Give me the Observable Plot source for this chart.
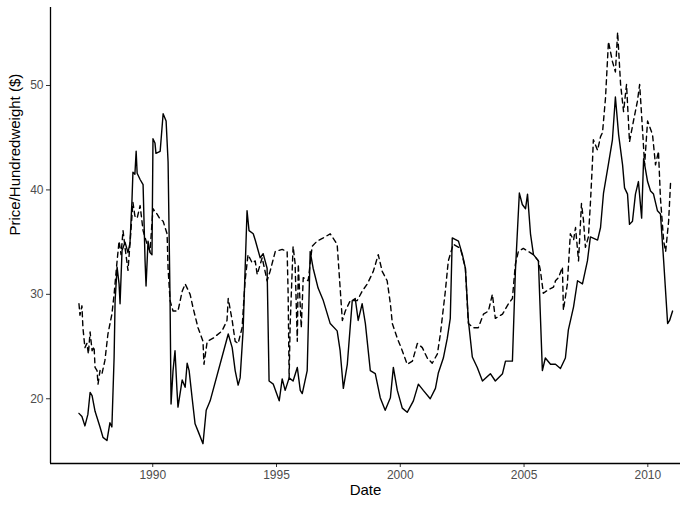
<!DOCTYPE html>
<html>
<head>
<meta charset="utf-8">
<script src="https://cdn.jsdelivr.net/npm/d3@7"></script>
<script src="https://cdn.jsdelivr.net/npm/@observablehq/plot@0.6"></script>
<style>
  html, body { margin: 0; padding: 0; background: #ffffff; }
  #chart { width: 680px; height: 506px; overflow: hidden; }
</style>
</head>
<body>
<div id="chart"></div>
<script>
// Solid series: decimal year and price ($ per hundredweight)
const solidYears = [
  1987.02,1987.14,1987.26,1987.38,1987.47,1987.55,1987.67,1987.75,1987.87,1987.99,
  1988.15,1988.27,1988.35,1988.44,1988.48,1988.56,1988.64,1988.68,1988.76,1988.88,1989.00,
  1989.08,1989.16,1989.20,1989.28,1989.33,1989.37,1989.49,1989.61,1989.69,1989.73,
  1989.81,1989.89,1989.97,1990.01,1990.09,1990.13,1990.30,1990.42,1990.54,1990.62,
  1990.70,1990.74,1990.82,1990.90,1990.98,1991.02,1991.19,1991.31,1991.39,1991.47,
  1991.59,1991.71,1991.83,1992.03,1992.16,1992.32,1993.05,1993.21,1993.33,1993.45,
  1993.53,1993.65,1993.81,1993.89,1994.06,1994.14,1994.34,1994.46,1994.62,1994.70,
  1994.87,1995.11,1995.23,1995.35,1995.51,1995.67,1995.84,1995.96,1996.04,1996.24,
  1996.36,1996.48,1996.68,1996.89,1997.17,1997.45,1997.57,1997.70,1997.86,1998.06,
  1998.18,1998.30,1998.46,1998.59,1998.79,1998.99,1999.19,1999.39,1999.60,1999.72,
  1999.88,2000.08,2000.28,2000.53,2000.73,2000.93,2001.21,2001.42,2001.54,2001.74,
  2001.90,2002.02,2002.10,2002.35,2002.51,2002.63,2002.75,2002.91,2003.11,2003.32,
  2003.64,2003.84,2004.13,2004.25,2004.53,2004.65,2004.81,2004.93,2005.06,2005.14,
  2005.26,2005.38,2005.58,2005.74,2005.86,2006.07,2006.27,2006.47,2006.67,2006.79,
  2007.00,2007.16,2007.36,2007.56,2007.68,2007.97,2008.09,2008.21,2008.41,
  2008.57,2008.69,2008.82,2008.98,2009.06,2009.18,2009.26,2009.38,2009.50,2009.62,
  2009.75,2009.83,2009.99,2010.11,2010.23,2010.39,2010.51,2010.64,2010.80,2010.88,
  2011.00
];
const solidPrices = [
  18.6,18.3,17.4,18.5,20.6,20.3,18.8,18.2,17.3,16.3,
  16.0,17.7,17.3,24.0,29.4,32.6,31.0,29.1,34.2,35.0,34.0,
  34.9,38.9,41.7,41.5,43.7,41.6,41.0,40.5,33.2,30.8,
  35.1,34.0,33.8,44.9,44.5,43.5,43.7,47.3,46.6,42.7,
  29.4,19.5,22.7,24.6,20.8,19.2,21.8,21.1,23.4,22.7,
  20.1,17.6,16.9,15.7,18.9,19.8,26.2,24.9,22.7,21.3,
  22.0,26.5,38.0,36.1,35.8,35.2,33.5,33.9,32.5,21.7,
  21.4,19.8,21.9,20.8,22.0,21.7,23.0,20.8,20.5,22.7,
  34.1,32.5,30.6,29.4,27.2,26.5,24.6,21.0,23.3,29.4,
  29.6,27.5,29.1,27.2,22.7,22.4,20.1,18.9,20.1,23.0,
  20.8,19.1,18.7,19.8,21.4,20.8,20.0,21.0,22.5,23.9,
  25.8,27.7,35.4,35.1,33.8,32.5,27.5,24.0,23.0,21.7,
  22.4,21.7,22.4,23.6,23.6,32.2,39.7,38.6,38.2,39.6,
  35.8,33.8,33.2,22.7,23.9,23.3,23.3,22.9,23.9,26.6,
  28.8,31.3,31.0,33.2,35.5,35.2,36.4,39.7,42.5,
  44.8,48.9,45.3,42.4,40.2,39.6,36.7,37.0,39.6,40.8,
  37.3,43.0,40.8,39.9,39.6,38.0,37.7,33.2,27.2,27.5,
  28.4
];

// Dashed series: decimal year and price ($ per hundredweight)
const dashedYears = [
  1987.02,1987.06,1987.14,1987.18,1987.26,1987.34,1987.40,1987.47,1987.55,1987.63,1987.67,
  1987.75,1987.79,1987.87,1987.95,1988.07,1988.19,1988.35,1988.44,1988.56,1988.64,
  1988.72,1988.80,1988.88,1989.00,1989.08,1989.20,1989.28,1989.37,1989.49,1989.61,
  1989.77,1989.89,1990.01,1990.17,1990.30,1990.42,1990.58,1990.62,1990.70,1990.82,
  1991.02,1991.19,1991.31,1991.51,1991.63,1991.83,1992.03,1992.07,1992.20,1992.44,
  1992.80,1993.00,1993.05,1993.21,1993.33,1993.45,1993.61,1993.73,1993.85,1994.02,
  1994.14,1994.22,1994.42,1994.62,1994.74,1994.95,1995.23,1995.43,1995.47,1995.51,
  1995.55,1995.67,1995.75,1995.84,1995.88,1996.00,1996.08,1996.28,1996.44,1996.64,
  1996.89,1997.17,1997.45,1997.66,1997.78,1997.98,1998.26,1998.46,1998.67,1998.91,
  1999.11,1999.27,1999.47,1999.60,1999.68,1999.88,2000.08,2000.28,2000.49,2000.69,
  2000.89,2001.09,2001.29,2001.50,2001.62,2001.82,2001.94,2002.14,2002.43,2002.63,
  2002.75,2002.95,2003.15,2003.36,2003.56,2003.72,2003.84,2004.13,2004.37,2004.53,
  2004.65,2004.77,2004.97,2005.18,2005.38,2005.58,2005.66,2005.78,2005.95,2006.19,
  2006.27,2006.39,2006.55,2006.59,2006.75,2006.79,2006.87,2007.00,2007.08,2007.20,
  2007.32,2007.40,2007.48,2007.60,2007.68,2007.76,2007.80,2007.97,2008.09,2008.17,
  2008.29,2008.41,2008.57,2008.69,2008.78,2008.90,
  2009.02,2009.14,2009.26,2009.42,2009.58,2009.67,2009.79,2009.87,2009.99,2010.19,
  2010.31,2010.43,2010.51,2010.64,2010.72,2010.84,2010.92
];
const dashedPrices = [
  29.1,28.0,28.9,26.8,24.9,25.3,24.3,26.4,24.6,25.0,23.0,
  22.7,21.4,22.7,22.4,23.7,26.2,28.1,30.0,33.2,35.1,
  33.8,36.1,34.5,32.3,34.8,38.8,37.5,37.3,38.5,36.1,
  34.8,34.1,38.2,37.7,37.2,37.0,35.8,32.5,29.4,28.4,
  28.4,30.3,31.0,30.0,28.7,26.8,25.5,23.3,25.5,25.8,
  26.5,27.5,29.6,27.5,25.5,25.3,26.8,31.3,33.8,33.0,
  33.2,31.9,33.5,31.3,32.2,34.1,34.3,34.1,30.0,22.0,
  27.0,34.6,33.0,25.5,32.9,26.8,31.6,31.3,34.6,35.1,
  35.4,35.8,34.8,27.5,28.4,29.4,29.4,30.3,31.0,32.2,
  33.8,32.2,31.3,29.1,27.2,25.8,24.6,23.3,23.6,25.3,
  24.9,23.9,23.4,24.3,26.2,30.3,33.2,34.8,34.4,32.5,
  27.2,26.8,26.8,28.1,28.4,30.0,27.7,28.1,29.1,29.6,
  32.9,34.1,34.4,34.1,33.8,33.2,32.3,30.1,30.4,30.7,
  31.3,31.6,32.6,28.5,31.0,32.6,35.8,35.2,36.4,33.2,
  38.7,37.1,34.5,35.5,38.7,42.5,44.8,43.8,45.1,45.5,
  48.8,54.2,52.3,51.3,55.1,50.1,
  47.5,50.1,44.6,46.6,48.5,50.1,45.6,42.4,46.6,45.3,
  42.4,43.7,39.2,35.1,34.1,37.0,40.8
];

const xTicks = [1990, 1995, 2000, 2005, 2010];
const yTicks = [20, 30, 40, 50];
const xDomain = [1985.87, 2011.32];
const yDomain = [13.8, 57.47];

const solidData = solidYears.map((yr, i) => ({year: yr, price: solidPrices[i]}));
const dashedData = dashedYears.map((yr, i) => ({year: yr, price: dashedPrices[i]}));

const font = "'Liberation Sans', Arial, Helvetica, sans-serif";

const chart = Plot.plot({
  width: 680,
  height: 506,
  marginLeft: 50,
  marginRight: 0,
  marginTop: 7,
  marginBottom: 43,
  style: {fontFamily: font, background: "#ffffff", overflow: "visible"},
  x: {domain: xDomain, ticks: xTicks, tickFormat: d => String(d), label: null},
  y: {domain: yDomain, ticks: yTicks, label: null},
  marks: [
    Plot.line(dashedData, {x: "year", y: "price", stroke: "#000000", strokeWidth: 1.4, strokeDasharray: "5,4"}),
    Plot.line(solidData, {x: "year", y: "price", stroke: "#000000", strokeWidth: 1.4}),
    Plot.axisX({ticks: xTicks, tickFormat: d => String(d), tickSize: 4, tickPadding: 3, fontSize: 12, fill: "#4d4d4d", stroke: "#333333", label: null}),
    Plot.axisY({ticks: yTicks, tickSize: 4, tickPadding: 3, fontSize: 12, fill: "#4d4d4d", stroke: "#333333", label: null}),
    Plot.ruleX([xDomain[0]], {stroke: "#000000", strokeWidth: 1.3}),
    Plot.ruleY([yDomain[0]], {stroke: "#000000", strokeWidth: 1.3}),
    Plot.text(["Date"], {frameAnchor: "bottom", dy: 31, fontSize: 15, fill: "#000000"}),
    Plot.text(["Price/Hundredweight ($)"], {frameAnchor: "left", dx: -35, rotate: -90, fontSize: 15, fill: "#000000"})
  ]
});

document.getElementById("chart").appendChild(chart);
</script>
</body>
</html>
